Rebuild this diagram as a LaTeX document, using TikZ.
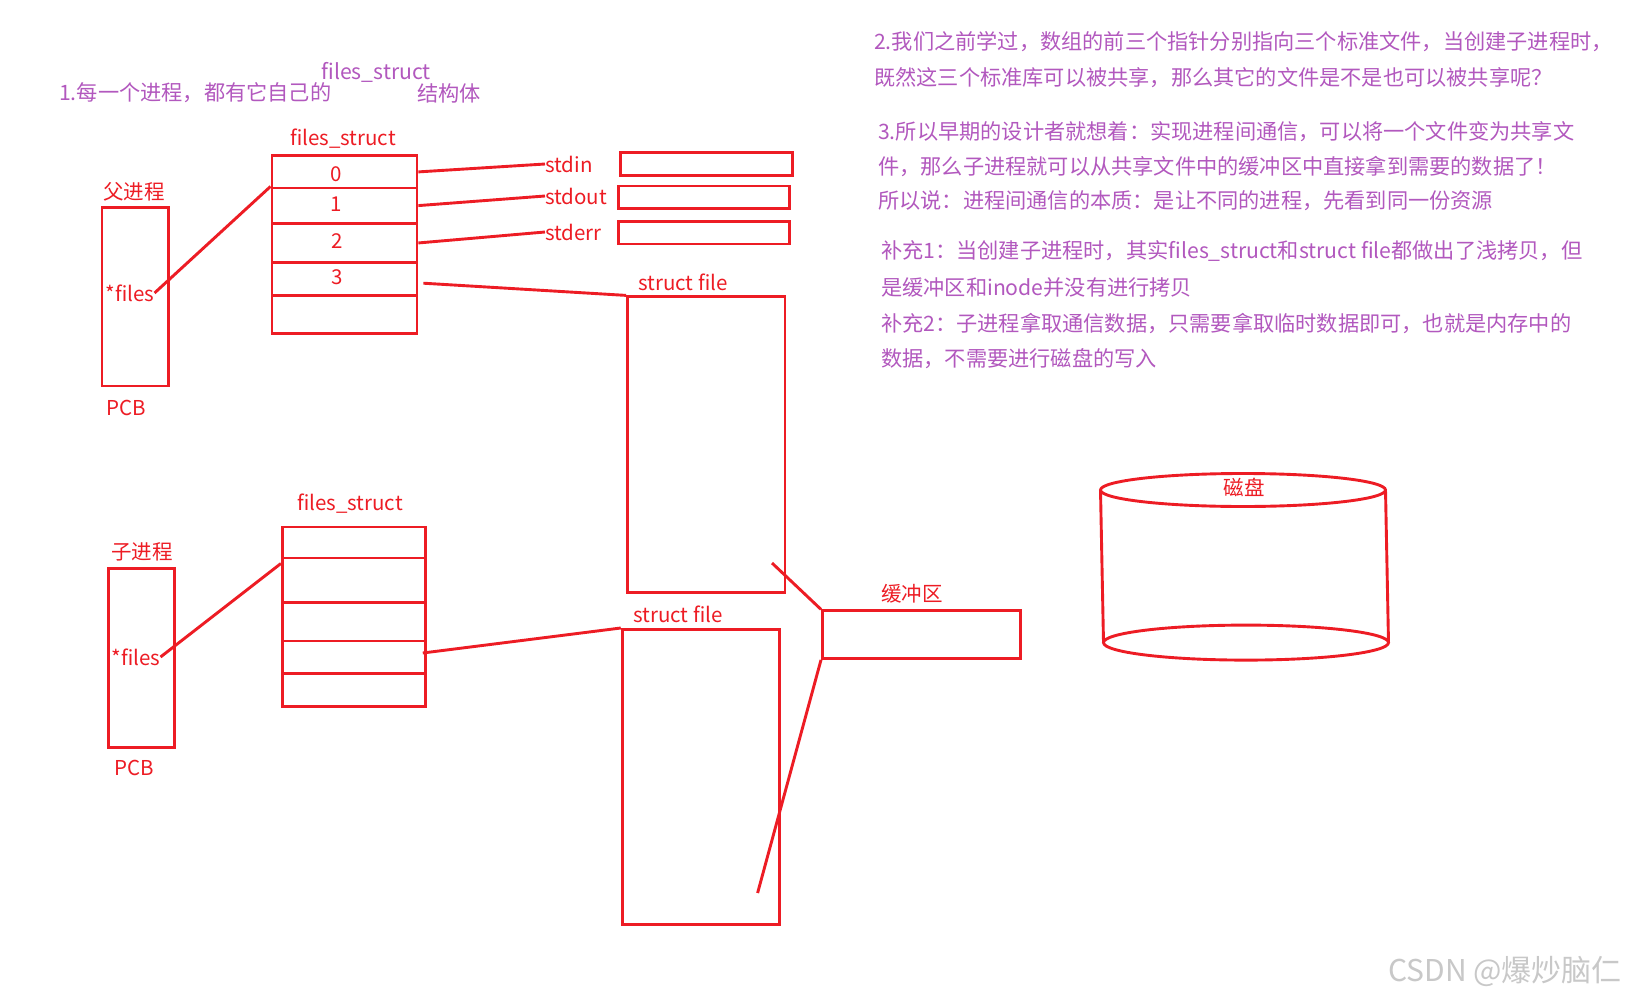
\documentclass[tikz,border=0pt]{standalone}
\usepackage{fontspec}
\usetikzlibrary{calc}
\setmainfont{Noto Sans CJK SC}
\definecolor{pr}{RGB}{237,28,36}
\definecolor{pu}{RGB}{178,88,190}
\definecolor{wm}{RGB}{200,200,200}
\begin{document}
\begin{tikzpicture}[x=1pt,y=-1pt,
  box/.style={draw=pr,line width=2.9pt,inner sep=0pt,anchor=north west},
  lbl/.style={text=pr,font=\fontsize{20.5}{25}\selectfont,inner sep=0pt},
  note/.style={text=pu,font=\fontsize{21.2}{26}\selectfont,inner sep=0pt,anchor=west},
  wire/.style={draw=pr,line width=2.9pt}]
\useasboundingbox[fill=white] (0,0) rectangle (1625,998);

% notes
\node[note] (n1a) at (59,93) {1.每一个进程，都有它自己的};
\node[note,anchor=center] (n1b) at (376,72) {files\_struct};
\node[note] (n1c) at (417,93) {结构体};
\node[note] (n2a) at (874,42) {2.我们之前学过，数组的前三个指针分别指向三个标准文件，当创建子进程时，};
\node[note] (n2b) at (874,78) {既然这三个标准库可以被共享，那么其它的文件是不是也可以被共享呢？};
\node[note] (n3a) at (878,132) {3.所以早期的设计者就想着：实现进程间通信，可以将一个文件变为共享文};
\node[note] (n3b) at (878,167) {件，那么子进程就可以从共享文件中的缓冲区中直接拿到需要的数据了！};
\node[note] (n3c) at (878,201) {所以说：进程间通信的本质：是让不同的进程，先看到同一份资源};
\node[note] (n4a) at (881,251) {补充1：当创建子进程时，其实files\_struct和struct file都做出了浅拷贝，但};
\node[note] (n4b) at (881,287) {是缓冲区和inode并没有进行拷贝};
\node[note] (n5a) at (881,324) {补充2：子进程拿取通信数据，只需要拿取临时数据即可，也就是内存中的};
\node[note] (n5b) at (881,359) {数据，不需要进行磁盘的写入};

% parent process
\node[lbl] (plab) at (134,192) {父进程};
\node[box,minimum width=66.5pt,minimum height=178.5pt] (ppcb) at (100.5,206) {};
\node[lbl] (pfiles) at (130,293) {*files};
\node[lbl] (ppcbl) at (126,408) {PCB};
\node[lbl] (pfs) at (343,139) {files\_struct};
\node[box,minimum width=145pt,minimum height=32.1pt] (p0) at (270.5,154.4) {};
\node[box,minimum width=145pt,minimum height=35.3pt] (p1) at (270.5,186.5) {};
\node[box,minimum width=145pt,minimum height=39.4pt] (p2) at (270.5,221.8) {};
\node[box,minimum width=145pt,minimum height=33.1pt] (p3) at (270.5,261.2) {};
\node[box,minimum width=145pt,minimum height=37.3pt] (p4) at (270.5,294.3) {};
\node[lbl] (d0) at (336,174) {0};
\node[lbl] (d1) at (336,204) {1};
\node[lbl] (d2) at (337,241.5) {2};
\node[lbl] (d3) at (337,277) {3};

\node[lbl,anchor=west] (stdin) at (545,164) {stdin};
\node[lbl,anchor=west] (stdout) at (545,196) {stdout};
\node[lbl,anchor=west] (stderr) at (545,232) {stderr};
\node[box,minimum width=172pt,minimum height=22.8pt] (fin) at (618.7,151.3) {};
\node[box,minimum width=171pt,minimum height=22.8pt] (fout) at (616.7,184.5) {};
\node[box,minimum width=171pt,minimum height=22.8pt] (ferr) at (616.7,219.7) {};

\node[lbl] (sf1l) at (683,282) {struct file};
\node[box,minimum width=157.5pt,minimum height=295.3pt] (sf1) at (626,295.4) {};

% child process
\node[lbl] (clab) at (142,552) {子进程};
\node[box,minimum width=66.3pt,minimum height=179pt] (cpcb) at (106.7,567) {};
\node[lbl] (cfiles) at (136,657) {*files};
\node[lbl] (cpcbl) at (134,768) {PCB};
\node[lbl] (cfs) at (350,504) {files\_struct};
\node[box,minimum width=143pt,minimum height=31pt] (c0) at (280.9,525.5) {};
\node[box,minimum width=143pt,minimum height=44.5pt] (c1) at (280.9,556.5) {};
\node[box,minimum width=143pt,minimum height=38.5pt] (c2) at (280.9,601) {};
\node[box,minimum width=143pt,minimum height=32.1pt] (c3) at (280.9,639.5) {};
\node[box,minimum width=143pt,minimum height=33.2pt] (c4) at (280.9,671.6) {};

\node[lbl] (sf2l) at (678,614.6) {struct file};
\node[box,minimum width=157.5pt,minimum height=295.4pt] (sf2) at (620.8,628) {};

% buffer
\node[lbl] (bufl) at (912,594) {缓冲区};
\node[box,minimum width=198pt,minimum height=47.6pt] (buf) at (821,609.4) {};
\coordinate (sf1t) at (772,563);
\coordinate (sf2t) at (757.6,893);

% wires
\draw[wire] (pfiles.east) -- (p1.north west);
\draw[wire] (p0.east) -- (stdin.west);
\draw[wire] (p1.east) -- (stdout.west);
\draw[wire] (p2.east) -- (stderr.west);
\draw[wire] ($(p3.east)+(5,4)$) -- (sf1.north west);
\draw[wire] (cfiles.east) -- ($(c1.north west)+(0,7)$);
\draw[wire] ($(c3.east)+(-4,-4)$) -- (sf2.north west);
\draw[wire] (sf1t) -- (buf.north west);
\draw[wire] (buf.south west) -- (sf2t);

% disk
\draw[wire] (1243,490) ellipse [x radius=142.5pt, y radius=16.5pt];
\draw[wire] (1246,642.6) ellipse [x radius=142.5pt, y radius=17.5pt];
\draw[wire] (1100.5,490) -- (1103.5,642.6);
\draw[wire] (1385.5,490) -- (1388.5,642.6);
\node[lbl] (disk) at (1244,487) {磁盘};

% watermark
\node[text=wm,font=\fontsize{30}{34}\selectfont,inner sep=0pt,anchor=east] (wmk) at (1622,971) {CSDN @爆炒脑仁};
\end{tikzpicture}
\end{document}
